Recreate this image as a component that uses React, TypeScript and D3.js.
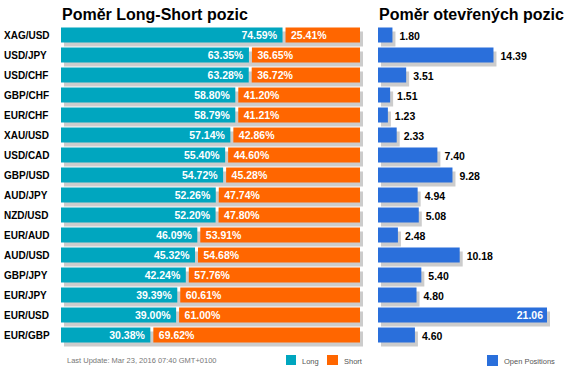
import React from "react";
import * as d3 from "d3";

const pairs = ["XAG/USD","USD/JPY","USD/CHF","GBP/CHF","EUR/CHF","XAU/USD","USD/CAD","GBP/USD","AUD/JPY","NZD/USD","EUR/AUD","AUD/USD","GBP/JPY","EUR/JPY","EUR/USD","EUR/GBP"];
const longPct = [74.59,63.35,63.28,58.80,58.79,57.14,55.40,54.72,52.26,52.20,46.09,45.32,42.24,39.39,39.00,30.38];
const shortPct = [25.41,36.65,36.72,41.20,41.21,42.86,44.60,45.28,47.74,47.80,53.91,54.68,57.76,60.61,61.00,69.62];
const openPos = [1.80,14.39,3.51,1.51,1.23,2.33,7.40,9.28,4.94,5.08,2.48,10.18,5.40,4.80,21.06,4.60];

const W = 567, H = 375;
const FONT = "'Liberation Sans', Arial, sans-serif";
const TEAL = "#00A6BF", ORANGE = "#FF6600", BLUE = "#2A6FDB", SHADOW = "#CCCCCC";

export default function App() {
  const y = d3.scaleBand<string>().domain(pairs).range([25, 345]).paddingInner(0.25).paddingOuter(0.125);
  const xL = d3.scaleLinear().domain([0, 100]).range([61, 360]);
  const xR = d3.scaleLinear().domain([0, 21.06]).range([378, 547]);
  const bh = y.bandwidth();

  return (
    <svg width={W} height={H} style={{ position: "absolute", left: 0, top: 0, background: "#fff" }} fontFamily={FONT}>
      <text x={62} y={20} fontSize={16} fontWeight="bold" fill="#000">Poměr Long-Short pozic</text>
      <text x={379} y={20} fontSize={16} fontWeight="bold" fill="#000">Poměr otevřených pozic</text>
      {pairs.map((p, i) => {
        const t = y(p) as number;
        const s = xL(longPct[i]);
        const vEnd = xR(openPos[i]);
        const label = openPos[i].toFixed(2);
        const inside = vEnd + 7 + 26 > W;
        return (
          <g key={p}>
            <text x={4} y={t + 11} fontSize={10} fontWeight="bold" fill="#000">{p}</text>
            <rect x={xL(0) + 3} y={t + 4} width={xL(100) - xL(0)} height={bh} fill={SHADOW} />
            <rect x={xL(0)} y={t} width={s - 1.5 - xL(0)} height={bh} fill={TEAL} />
            <rect x={s + 1.5} y={t} width={xL(100) - s - 1.5} height={bh} fill={ORANGE} />
            <text x={s - 7} y={t + 11.5} fontSize={10.5} fontWeight="bold" fill="#fff" textAnchor="end">{longPct[i].toFixed(2)}%</text>
            <text x={s + 7} y={t + 11.5} fontSize={10.5} fontWeight="bold" fill="#fff">{shortPct[i].toFixed(2)}%</text>
            <rect x={xR(0) + 3} y={t + 4} width={vEnd - xR(0)} height={bh} fill={SHADOW} />
            <rect x={xR(0)} y={t} width={vEnd - xR(0)} height={bh} fill={BLUE} />
            {inside ? (
              <text x={vEnd - 4} y={t + 11.5} fontSize={10.5} fontWeight="bold" fill="#fff" textAnchor="end">{label}</text>
            ) : (
              <text x={vEnd + 7} y={t + 12} fontSize={10.5} fontWeight="bold" fill="#000">{label}</text>
            )}
          </g>
        );
      })}
      <text x={67} y={363} fontSize={7.5} fill="#777">Last Update: Mar 23, 2016 07:40 GMT+0100</text>
      <rect x={286} y={355} width={10} height={10} fill={TEAL} />
      <text x={302} y={363.5} fontSize={7.5} fill="#555">Long</text>
      <rect x={327} y={355} width={11} height={10} fill={ORANGE} />
      <text x={344} y={363.5} fontSize={7.5} fill="#555">Short</text>
      <rect x={487} y={355} width={11} height={11} fill={BLUE} />
      <text x={504} y={363.5} fontSize={7.5} fill="#555">Open Positions</text>
    </svg>
  );
}
